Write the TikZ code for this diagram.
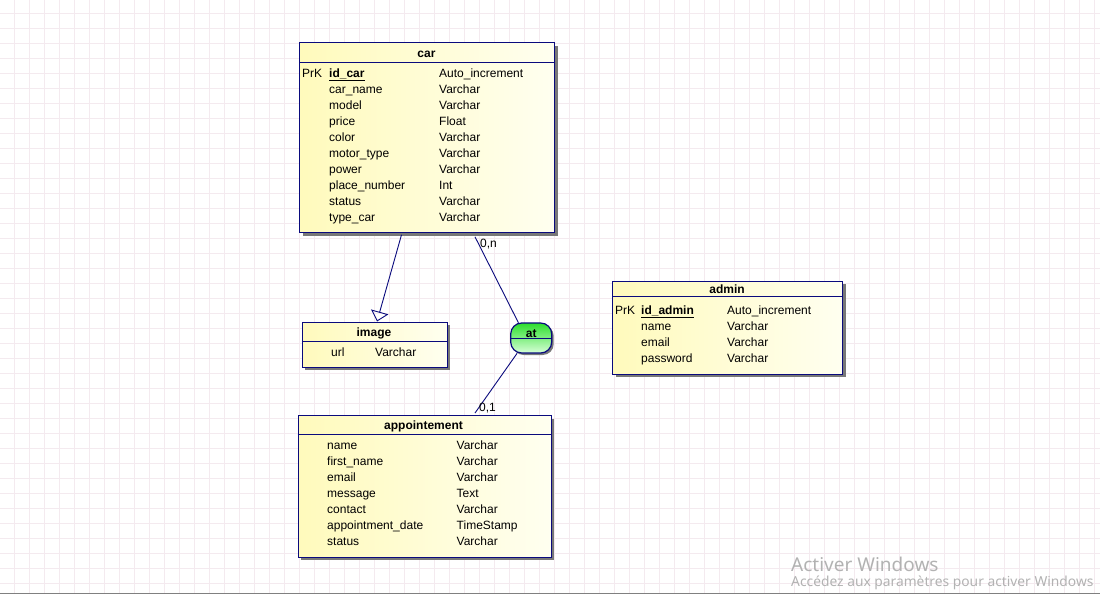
\documentclass[tikz,border=0pt]{standalone}
\usepackage{fontspec}
\setmainfont{Liberation Sans}
\newfontfamily\wmfont{Noto Sans}
\usetikzlibrary{arrows.meta,shadows,calc}
\definecolor{navy}{RGB}{10,10,125}
\definecolor{tabyel}{RGB}{255,250,188}
\definecolor{tabwht}{RGB}{255,255,240}
\definecolor{shadowc}{RGB}{120,120,120}
\definecolor{gridc}{RGB}{244,234,239}
\definecolor{wmc}{RGB}{178,178,178}
\definecolor{greentop}{RGB}{45,222,45}
\definecolor{greenbot}{RGB}{215,255,215}
\tikzset{
  tbl/.style={draw=navy, line width=1.3pt, left color=tabyel, right color=tabwht,
    anchor=north west, inner sep=0pt,
    drop shadow={shadow xshift=3pt, shadow yshift=-3pt, fill=shadowc, opacity=1}},
  hdrline/.style={draw=navy, line width=1pt},
  fld/.style={anchor=base west, inner sep=0pt, font=\fontsize{12}{14}\selectfont},
  ttl/.style={anchor=base, inner sep=0pt, font=\fontsize{12}{14}\selectfont\bfseries},
  conn/.style={draw=navy, line width=0.9pt},
  lbl/.style={anchor=base west, inner sep=0pt, font=\fontsize{12}{14}\selectfont},
  atbox/.style={draw=navy, line width=1.2pt, rounded corners=11pt,
    top color=greentop, bottom color=greenbot, minimum width=41pt, minimum height=30pt,
    inner sep=0pt,
    drop shadow={shadow xshift=2pt, shadow yshift=-2pt, fill=shadowc, opacity=1}},
  wm/.style={anchor=base west, inner sep=0pt, text=wmc}
}
\begin{document}
\begin{tikzpicture}[x=1pt,y=-1pt]
\useasboundingbox (0,0) rectangle (1100,597);
\fill[white] (0,0) rectangle (1100,597);
% grid
\foreach \x in {14,29,...,1094} \draw[gridc, line width=0.8pt] (\x,0) -- (\x,593);
\foreach \y in {13,28,...,583} \draw[gridc, line width=0.8pt] (0,\y) -- (1100,\y);

% ---- car ----
\node[tbl, minimum width=255pt, minimum height=190pt] (car) at (299,42) {};
\draw[hdrline] ([yshift=-20pt]car.north west) -- ([yshift=-20pt]car.north east);
\node[ttl] (car-title) at (426.5,57) {car};
\node[fld] (car-pk) at (302,77) {PrK};
\node[fld] (car-n0) at (329,77) {\underline{\textbf{id\_car}}};
\node[fld] (car-t0) at (439,77) {Auto\_increment};
\foreach \nm/\ty [count=\i from 1] in {car\_name/Varchar, model/Varchar, price/Float, color/Varchar, motor\_type/Varchar, power/Varchar, place\_number/Int, status/Varchar, type\_car/Varchar}{
  \node[fld] (car-n\i) at (329,{77+16*\i}) {\nm};
  \node[fld] (car-t\i) at (439,{77+16*\i}) {\ty};
}

% ---- image ----
\node[tbl, minimum width=145pt, minimum height=45pt] (image) at (301.5,321.5) {};
\draw[hdrline] ([yshift=-19.5pt]image.north west) -- ([yshift=-19.5pt]image.north east);
\node[ttl] (image-title) at (374,336) {image};
\node[fld] (image-n1) at (331,356) {url};
\node[fld] (image-t1) at (375,356) {Varchar};

% ---- admin ----
\node[tbl, minimum width=230pt, minimum height=93pt] (admin) at (612,280.5) {};
\draw[hdrline] ([yshift=-15.5pt]admin.north west) -- ([yshift=-15.5pt]admin.north east);
\node[ttl] (admin-title) at (727,293) {admin};
\node[fld] (admin-pk) at (615,314) {PrK};
\node[fld] (admin-n0) at (641,314) {\underline{\textbf{id\_admin}}};
\node[fld] (admin-t0) at (727,314) {Auto\_increment};
\foreach \nm/\ty [count=\i from 1] in {name/Varchar, email/Varchar, password/Varchar}{
  \node[fld] (admin-n\i) at (641,{314+16*\i}) {\nm};
  \node[fld] (admin-t\i) at (727,{314+16*\i}) {\ty};
}

% ---- appointement ----
\node[tbl, minimum width=253pt, minimum height=141.5pt] (appt) at (297.5,415) {};
\draw[hdrline] ([yshift=-19.5pt]appt.north west) -- ([yshift=-19.5pt]appt.north east);
\node[ttl] (appt-title) at (423.5,429) {appointement};
\foreach \nm/\ty [count=\i from 0] in {name/Varchar, first\_name/Varchar, email/Varchar, message/Text, contact/Varchar, appointment\_date/TimeStamp, status/Varchar}{
  \node[fld] (appt-n\i) at (327,{449+16*\i}) {\nm};
  \node[fld] (appt-t\i) at (456.5,{449+16*\i}) {\ty};
}

% ---- relation at ----
\node[atbox] (at) at (531.2,338) {};
\draw[navy, line width=1pt] (at.west) -- (at.east);
\node[ttl] (at-title) at (531.2,337) {at};

% ---- connectors ----
\draw[conn, -{Triangle[open, length=10pt, width=18pt]}]
  ([xshift=102.5pt, yshift=-1.5pt]car.south west) -- ([xshift=75.5pt]image.north west);
\draw[conn] ([xshift=176pt, yshift=-3.5pt]car.south west) -- ([xshift=8.3pt, yshift=-0.3pt]at.north west);
\draw[conn] ([xshift=7pt, yshift=0.3pt]at.south west) -- ([xshift=177.5pt, yshift=2pt]appt.north west);
\node[lbl] (card-n) at (480,247) {0,n};
\node[lbl] (card-1) at (479,411) {0,1};

% ---- bottom border and watermark ----
\draw[gray, line width=1.5pt] (0,593.5) -- (1100,593.5);
\fill[white] (0,594.3) rectangle (1100,597);
\node[wm, font=\wmfont\fontsize{19}{22}\selectfont] (wm1) at (791,571.5) {Activer Windows};
\node[wm, font=\wmfont\fontsize{13.8}{16}\selectfont] (wm2) at (791,586) {Accédez aux paramètres pour activer Windows};
\end{tikzpicture}
\end{document}
